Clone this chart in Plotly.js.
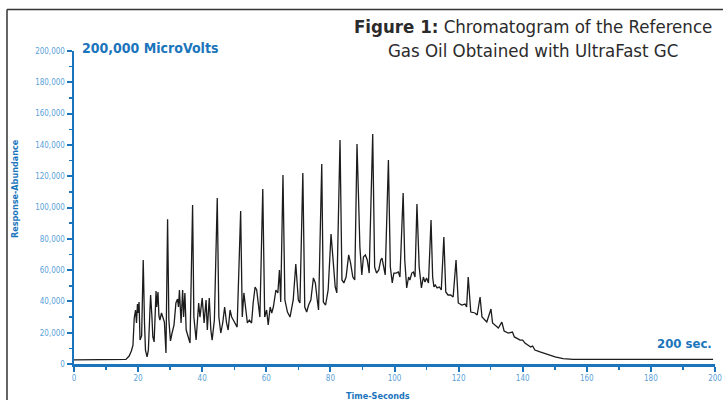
<!DOCTYPE html>
<html>
<head>
<meta charset="utf-8">
<script src="https://cdn.plot.ly/plotly-3.0.1.min.js"></script>
<style>
  html, body { margin: 0; padding: 0; background: #ffffff; }
  #chart { width: 723px; height: 400px; }
</style>
</head>
<body>
<div id="chart"></div>
<script>
// Retention time (seconds)
const timeSec = [
  0, 8.1, 16.2, 17.2, 17.9, 18.4, 18.8, 19.2, 19.5, 19.8, 20.0, 20.3, 20.6, 21.1, 21.6, 22.0, 22.3, 22.8, 23.2, 23.7,
  23.9, 24.3, 24.6, 25.0, 25.3, 25.6, 25.8, 26.2, 26.5, 26.8, 27.3, 27.8, 28.2, 28.7, 29.2, 29.6, 30.1, 30.6, 31.2, 31.8,
  32.3, 32.6, 32.9, 33.4, 33.9, 34.2, 34.6, 35.0, 36.2, 37.0, 37.4, 38.1, 38.9, 39.3, 40.0, 40.6, 41.2, 41.6, 42.2, 42.7,
  43.1, 43.8, 44.7, 45.2, 45.8, 46.4, 47.0, 47.6, 48.1, 48.7, 49.2, 49.7, 50.3, 50.9, 52.0, 52.5, 53.0, 53.6, 54.1, 54.7,
  55.4, 55.9, 56.5, 57.0, 57.5, 58.0, 58.9, 59.5, 60.1, 60.6, 61.2, 61.7, 62.2, 63.0, 63.6, 64.1, 64.5, 65.2, 65.8, 66.6,
  67.4, 67.9, 68.4, 69.2, 70.0, 70.5, 71.4, 72.0, 72.6, 73.2, 73.9, 74.7, 75.3, 75.9, 76.3, 77.3, 77.8, 78.5, 79.3, 80.2,
  80.9, 81.5, 82.0, 83.0, 83.6, 84.2, 84.9, 85.7, 86.3, 87.0, 87.6, 88.3, 88.8, 89.2, 89.8, 90.3, 90.9, 91.5, 92.1, 93.2,
  93.8, 94.4, 95.1, 95.7, 96.1, 96.6, 97.1, 98.1, 98.7, 99.3, 99.8, 100.5, 101.2, 101.7, 102.7, 103.2, 103.8, 104.4, 104.8, 105.4,
  105.9, 106.4, 107.0, 107.7, 108.4, 109.0, 109.5, 110.0, 110.6, 111.4, 111.9, 112.3, 112.7, 113.3, 114.0, 114.6, 115.4, 116.0, 116.7, 117.5,
  118.3, 119.2, 119.9, 121.0, 122.0, 122.5, 123.0, 123.8, 125.1, 125.8, 126.7, 127.3, 128.8, 130.1, 130.6, 132.4, 133.5, 134.2, 135.5, 136.8,
  137.4, 139.2, 140.0, 140.7, 142.5, 143.1, 143.8, 145.4, 146.4, 148.0, 150.1, 152.6, 155.7, 161.0, 170.4, 178.8, 189.1, 199.4
];

// Detector response (microvolts)
const responseUV = [
  2600, 2600, 2900, 5100, 8300, 12100, 29400, 34500, 26200, 38300, 32600, 39600, 15300, 17900, 66500, 26200, 8900, 4500, 8900, 34500,
  44100, 30700, 17300, 14100, 28100, 46600, 36400, 46000, 30700, 28100, 32600, 29400, 26800, 7000, 92500, 28100, 14700, 19800, 24900, 39000,
  41500, 36400, 47300, 26200, 47300, 30000, 45400, 21700, 13400, 101600, 30000, 15300, 39000, 30000, 42200, 26200, 40900, 21700, 42200, 21700,
  15300, 28100, 106100, 30000, 19800, 26200, 36400, 26200, 21700, 34500, 30000, 28100, 26200, 23600, 97800, 30000, 45400, 32600, 26200, 28100,
  26200, 39000, 49200, 47300, 36400, 30000, 111800, 30000, 34500, 24900, 36400, 32600, 36400, 47300, 45400, 60100, 39600, 120800, 40900, 33200,
  30000, 36400, 40900, 63900, 40900, 39000, 122000, 36400, 33200, 37700, 40900, 55000, 51800, 40900, 34500, 127800, 39600, 37700, 47300, 83100,
  66500, 49200, 45400, 143100, 53700, 51800, 55600, 69700, 64500, 55600, 53700, 140600, 104800, 74800, 56900, 68400, 69700, 66500, 58100, 147000,
  62000, 58100, 60100, 66500, 67700, 62000, 56900, 130400, 62000, 51800, 58100, 58100, 58800, 55600, 109300, 66500, 48600, 55600, 53700, 58100,
  58800, 55600, 102200, 62000, 48600, 55600, 52400, 55000, 51800, 92000, 55600, 49200, 50500, 48600, 49200, 47300, 81200, 46000, 44100, 44100,
  42800, 66500, 39000, 37700, 38300, 36400, 55600, 33200, 32600, 31300, 42800, 30000, 26800, 35100, 26200, 23000, 26800, 21100, 19800, 20400,
  17300, 15300, 15300, 13400, 10900, 11500, 8900, 7700, 7000, 5800, 4500, 3400, 3000, 2900, 2900, 3200, 3000, 2900
];

const xTickStep = 20;
const yTickStep = 20000;

const axisBlue = '#1b75bc';
const labelBlue = '#5a9fd8';
const narrow = '"Liberation Sans Narrow", "DejaVu Sans Condensed", "Arial Narrow", sans-serif';

// plot-area geometry helpers for decoration placement (paper coords)
const L = 74, R = 8, T = 51, B = 36, W = 723, H = 400;
const pw = W - L - R, ph = H - T - B;
const px = p => (p - L) / pw;
const py = p => (H - B - p) / ph;

const trace = {
  x: timeSec,
  y: responseUV,
  type: 'scatter',
  mode: 'lines',
  line: { color: '#1c1c1c', width: 1.3 },
  hoverinfo: 'skip'
};

const layout = {
  width: W,
  height: H,
  margin: { l: L, r: R, t: T, b: B, pad: 0 },
  paper_bgcolor: '#ffffff',
  plot_bgcolor: '#ffffff',
  showlegend: false,
  xaxis: {
    range: [0, 200],
    tickmode: 'linear', tick0: 0, dtick: xTickStep,
    showgrid: false, zeroline: false,
    showline: true, linecolor: axisBlue, linewidth: 2.5,
    ticks: 'outside', ticklen: 5, tickwidth: 2, tickcolor: axisBlue,
    minor: { ticks: 'outside', ticklen: 3, tickwidth: 1.5, tickcolor: axisBlue, dtick: 10, showgrid: false },
    tickfont: { family: narrow, size: 8, color: labelBlue },
    fixedrange: true
  },
  yaxis: {
    range: [0, 200000],
    tickmode: 'linear', tick0: 0, dtick: yTickStep,
    tickformat: ',d',
    showgrid: false, zeroline: false,
    showline: true, linecolor: axisBlue, linewidth: 2.5,
    ticks: 'outside', ticklen: 5, tickwidth: 2, tickcolor: axisBlue,
    minor: { ticks: 'outside', ticklen: 3, tickwidth: 1.5, tickcolor: axisBlue, dtick: 10000, showgrid: false },
    tickfont: { family: narrow, size: 8, color: labelBlue },
    fixedrange: true
  },
  shapes: [
    { type: 'line', xref: 'paper', yref: 'paper', x0: px(7), x1: px(7), y0: py(9.5), y1: py(400), line: { color: '#333333', width: 1.5 } },
    { type: 'line', xref: 'paper', yref: 'paper', x0: px(7), x1: px(723), y0: py(9.5), y1: py(9.5), line: { color: '#333333', width: 1.5 } }
  ],
  annotations: [
    {
      xref: 'paper', yref: 'paper', x: px(533), y: py(38.5), xanchor: 'center', yanchor: 'middle',
      text: '<b>Figure 1:</b> Chromatogram of the Reference<br>Gas Oil Obtained with UltraFast GC',
      showarrow: false, align: 'center',
      font: { family: narrow, size: 18.5, color: '#2b2b2b' }
    },
    {
      xref: 'paper', yref: 'paper', x: px(80), y: py(48), xanchor: 'left', yanchor: 'middle',
      text: '<b>200,000 MicroVolts</b>', showarrow: false,
      font: { family: narrow, size: 14, color: axisBlue }
    },
    {
      xref: 'paper', yref: 'paper', x: px(714), y: py(343), xanchor: 'right', yanchor: 'middle',
      text: '<b>200 sec.</b>', showarrow: false,
      font: { family: narrow, size: 13, color: axisBlue }
    },
    {
      xref: 'paper', yref: 'paper', x: px(15), y: py(189), xanchor: 'center', yanchor: 'middle',
      text: '<b>Response-Abundance</b>', showarrow: false, textangle: -90,
      font: { family: narrow, size: 9, color: axisBlue }
    },
    {
      xref: 'paper', yref: 'paper', x: px(378), y: py(396), xanchor: 'center', yanchor: 'middle',
      text: '<b>Time-Seconds</b>', showarrow: false,
      font: { family: narrow, size: 9, color: axisBlue }
    }
  ]
};

Plotly.newPlot('chart', [trace], layout, { displayModeBar: false, staticPlot: true });
</script>
</body>
</html>
